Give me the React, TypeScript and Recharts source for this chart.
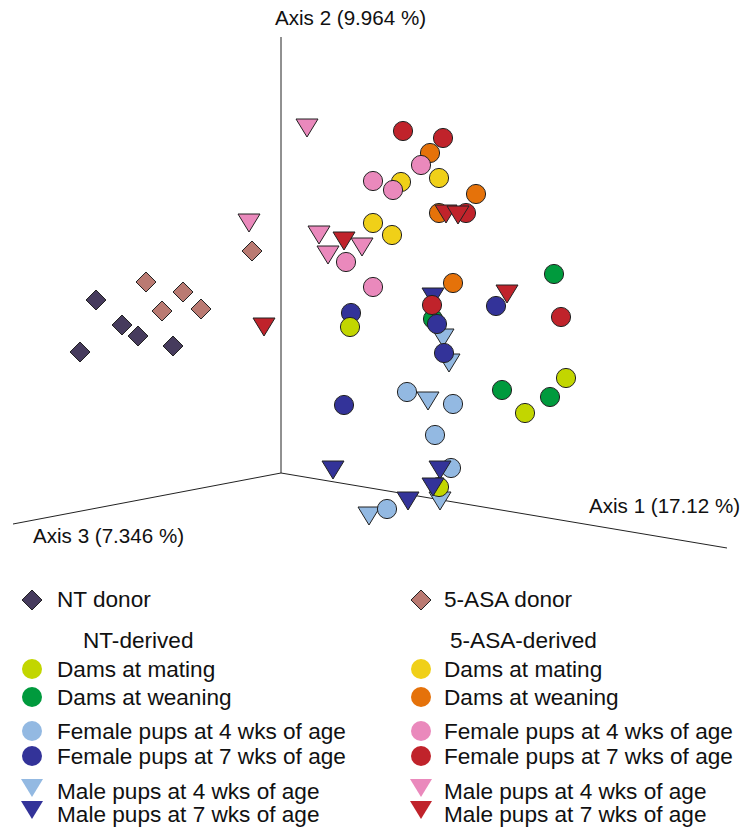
import React from 'react';
import { ScatterChart, Scatter, XAxis, YAxis, ReferenceLine } from 'recharts';

const W = 742;
const H = 830;

// Projected PCoA positions of each sample (x to the right, y downward), per group
const ntDonor = [[96, 300], [122, 325], [138, 336], [80, 352], [173, 346]];
const asaDonor = [[146, 282], [183, 292], [162, 311], [201, 309], [252, 251]];
const ntDamsMating = [[350, 327], [566, 378], [525, 413], [439, 487]];
const ntDamsWeaning = [[554, 274], [433, 319], [502, 390], [550, 397]];
const ntFemale4 = [[407, 392], [453, 404], [435, 435], [451, 468], [387, 509]];
const ntFemale7 = [[351, 313], [437, 324], [444, 353], [496, 306], [344, 405]];
const ntMale4 = [[443, 338], [449, 363], [428, 401], [440, 501], [369, 516]];
const ntMale7 = [[433, 297], [333, 470], [440, 470], [433, 487], [408, 501]];
const asaDamsMating = [[401, 182], [439, 178], [373, 223], [392, 235]];
const asaDamsWeaning = [[430, 153], [476, 194], [439, 213], [453, 283]];
const asaFemale4 = [[421, 165], [373, 181], [393, 190], [346, 262], [373, 287]];
const asaFemale7 = [[403, 131], [443, 138], [466, 213], [432, 305], [561, 317]];
const asaMale4 = [[307, 128], [249, 223], [319, 235], [328, 255], [362, 247]];
const asaMale7 = [[446, 214], [458, 215], [344, 241], [264, 327], [507, 294]];

// 3D axes (projected)
const axisOrigin = [281, 473];
const axis1End = [727, 548];
const axis2End = [281, 37];
const axis3End = [13, 524];
const axisLabels = ['Axis 1 (17.12 %)', 'Axis 2 (9.964 %)', 'Axis 3 (7.346 %)'];

const groupLabels = [
  'Dams at mating',
  'Dams at weaning',
  'Female pups at 4 wks of age',
  'Female pups at 7 wks of age',
  'Male pups at 4 wks of age',
  'Male pups at 7 wks of age',
];

const C = {
  ntDonor: '#463b5d',
  asaDonor: '#ba7a72',
  ntMating: '#c2d600',
  ntWeaning: '#009a3d',
  ntF4: '#93b9e2',
  ntF7: '#333399',
  asaMating: '#f0d018',
  asaWeaning: '#e5720a',
  asaF4: '#ea89bc',
  asaF7: '#c0232b',
};

const STROKE = '#222';

const toData = (arr: number[][]) => arr.map(([x, y]) => ({ x, y }));

const circleShape = (fill: string) => (p: any) => (
  <circle cx={p.cx} cy={p.cy} r={9.6} fill={fill} stroke={STROKE} strokeWidth={1} />
);
const triShape = (fill: string) => (p: any) => {
  const { cx, cy } = p;
  return (
    <polygon
      points={`${cx - 11},${cy - 9} ${cx + 11},${cy - 9} ${cx},${cy + 9}`}
      fill={fill}
      stroke={STROKE}
      strokeWidth={1}
    />
  );
};
const diamondShape = (fill: string) => (p: any) => {
  const { cx, cy } = p;
  return (
    <polygon
      points={`${cx},${cy - 10} ${cx + 10},${cy} ${cx},${cy + 10} ${cx - 10},${cy}`}
      fill={fill}
      stroke={STROKE}
      strokeWidth={1}
    />
  );
};

const series = [
  { data: ntDonor, shape: diamondShape(C.ntDonor) },
  { data: asaDonor, shape: diamondShape(C.asaDonor) },
  { data: ntDamsWeaning, shape: circleShape(C.ntWeaning) },
  { data: ntMale4, shape: triShape(C.ntF4) },
  { data: ntFemale7, shape: circleShape(C.ntF7) },
  { data: ntDamsMating, shape: circleShape(C.ntMating) },
  { data: ntFemale4, shape: circleShape(C.ntF4) },
  { data: ntMale7, shape: triShape(C.ntF7) },
  { data: asaDamsMating, shape: circleShape(C.asaMating) },
  { data: asaDamsWeaning, shape: circleShape(C.asaWeaning) },
  { data: asaFemale4, shape: circleShape(C.asaF4) },
  { data: asaFemale7, shape: circleShape(C.asaF7) },
  { data: asaMale4, shape: triShape(C.asaF4) },
  { data: asaMale7, shape: triShape(C.asaF7) },
];

const FONT = '"Liberation Sans", Arial, sans-serif';
const AXIS_FS = 20.6;
const LEG_FS = 22.6;

const LegendMarker = ({ kind, fill, x, y }: { kind: string; fill: string; x: number; y: number }) => {
  if (kind === 'circle') return <circle cx={x} cy={y} r={10} fill={fill} />;
  if (kind === 'tri')
    return <polygon points={`${x - 11},${y - 9} ${x + 11},${y - 9} ${x},${y + 9}`} fill={fill} />;
  return (
    <polygon
      points={`${x},${y - 10} ${x + 10},${y} ${x},${y + 10} ${x - 10},${y}`}
      fill={fill}
      stroke={STROKE}
      strokeWidth={1}
    />
  );
};

const legendRows = [
  { y: 669, tb: 677 },
  { y: 697, tb: 705 },
  { y: 731, tb: 739 },
  { y: 756, tb: 764 },
  { y: 788, tb: 799 },
  { y: 810, tb: 822 },
];
const ntLegendColors = [C.ntMating, C.ntWeaning, C.ntF4, C.ntF7, C.ntF4, C.ntF7];
const asaLegendColors = [C.asaMating, C.asaWeaning, C.asaF4, C.asaF7, C.asaF4, C.asaF7];
const legendKinds = ['circle', 'circle', 'circle', 'circle', 'tri', 'tri'];

export default function App() {
  return (
    <div style={{ position: 'absolute', left: 0, top: 0, width: W, height: H, background: '#fff' }}>
      <ScatterChart width={W} height={H} margin={{ top: 0, right: 0, bottom: 0, left: 0 }}>
        <XAxis type="number" dataKey="x" domain={[0, W]} hide allowDataOverflow />
        <YAxis type="number" dataKey="y" domain={[0, H]} reversed hide allowDataOverflow />
        <ReferenceLine
          segment={[{ x: axisOrigin[0], y: axisOrigin[1] }, { x: axis2End[0], y: axis2End[1] }]}
          stroke={STROKE}
          strokeWidth={1}
          ifOverflow="visible"
        />
        <ReferenceLine
          segment={[{ x: axisOrigin[0], y: axisOrigin[1] }, { x: axis1End[0], y: axis1End[1] }]}
          stroke={STROKE}
          strokeWidth={1}
          ifOverflow="visible"
        />
        <ReferenceLine
          segment={[{ x: axisOrigin[0], y: axisOrigin[1] }, { x: axis3End[0], y: axis3End[1] }]}
          stroke={STROKE}
          strokeWidth={1}
          ifOverflow="visible"
        />
        {series.map((s, i) => (
          <Scatter key={i} data={toData(s.data)} shape={s.shape} isAnimationActive={false} />
        ))}
      </ScatterChart>
      <svg
        width={W}
        height={H}
        style={{ position: 'absolute', left: 0, top: 0, pointerEvents: 'none' }}
        fontFamily={FONT}
      >
        <text x={275} y={25} fontSize={AXIS_FS} fill="#111">{axisLabels[1]}</text>
        <text x={589} y={513} fontSize={AXIS_FS} fill="#111">{axisLabels[0]}</text>
        <text x={33} y={543} fontSize={AXIS_FS} fill="#111">{axisLabels[2]}</text>

        <LegendMarker kind="diamond" fill={C.ntDonor} x={32} y={600} />
        <text x={57} y={607} fontSize={LEG_FS} fill="#111">NT donor</text>
        <LegendMarker kind="diamond" fill={C.asaDonor} x={421} y={600} />
        <text x={444} y={607} fontSize={LEG_FS} fill="#111">5-ASA donor</text>

        <text x={83} y={648} fontSize={LEG_FS} fill="#111">NT-derived</text>
        <text x={450} y={648} fontSize={LEG_FS} fill="#111">5-ASA-derived</text>

        {legendRows.map((r, i) => (
          <g key={i}>
            <LegendMarker kind={legendKinds[i]} fill={ntLegendColors[i]} x={32} y={r.y} />
            <text x={57} y={r.tb} fontSize={LEG_FS} fill="#111">{groupLabels[i]}</text>
            <LegendMarker kind={legendKinds[i]} fill={asaLegendColors[i]} x={421} y={r.y} />
            <text x={444} y={r.tb} fontSize={LEG_FS} fill="#111">{groupLabels[i]}</text>
          </g>
        ))}
      </svg>
    </div>
  );
}
